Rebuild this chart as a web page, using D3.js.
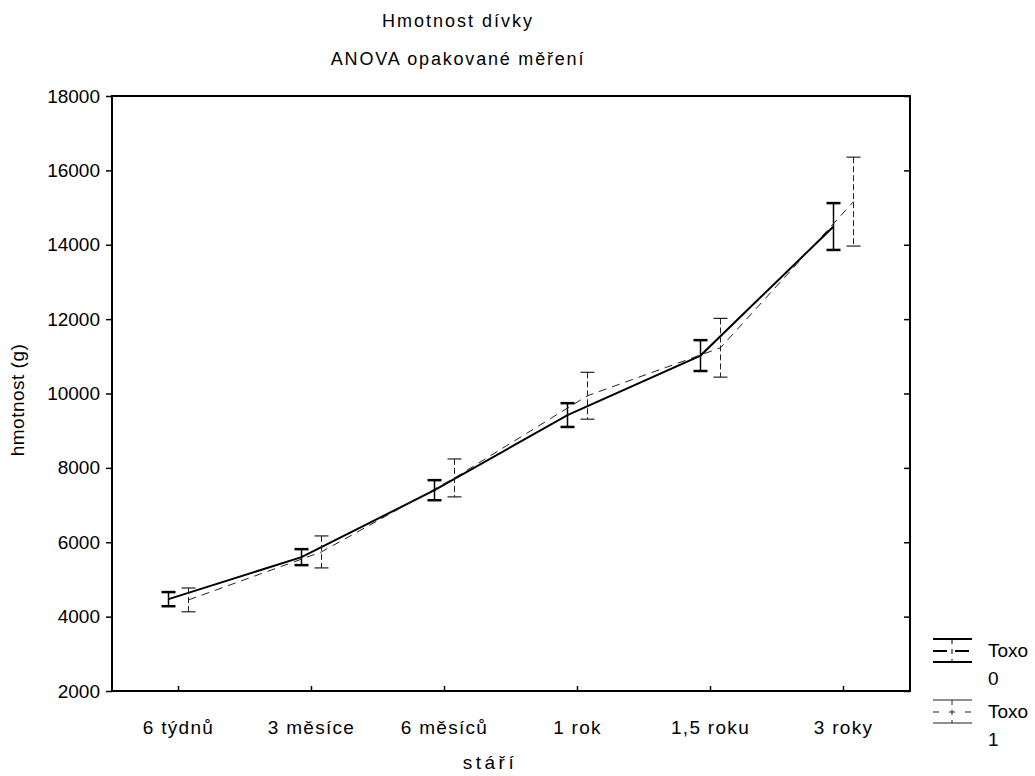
<!DOCTYPE html>
<html><head><meta charset="utf-8">
<script src="https://cdn.jsdelivr.net/npm/d3@7"></script>
<style>body{margin:0;background:#fff}text{font-family:"Liberation Sans",Arial,sans-serif;fill:#000}</style>
</head><body><svg id="c" width="1035" height="776"></svg>
<script>
const categories = ["6 týdnů","3 měsíce","6 měsíců","1 rok","1,5 roku","3 roky"];
const toxo0Mean = [4470, 5600, 7400, 9420, 11020, 14490];
const toxo0Err  = [190, 215, 270, 320, 415, 630];
const toxo1Mean = [4450, 5740, 7730, 9940, 11230, 15160];
const toxo1Err  = [320, 430, 510, 630, 790, 1195];
const yTicks = [2000,4000,6000,8000,10000,12000,14000,16000,18000];
const seriesNames = ["Toxo\n0","Toxo\n1"];

const svg = d3.select("#c");
const L=112,R=910,T=96,B=691;
const FF = "Liberation Sans, Arial, sans-serif";
const x = d3.scaleBand().domain(categories).range([L,R]);
const y = d3.scaleLinear().domain([2000,18000]).range([B,T]);
const cx = c => x(c)+x.bandwidth()/2;

// frame
svg.append("rect").attr("x",L).attr("y",T).attr("width",R-L).attr("height",B-T)
  .attr("fill","none").attr("stroke","#000").attr("stroke-width",2);

// y axis
const ya = svg.append("g").attr("transform",`translate(${L},0)`)
  .call(d3.axisLeft(y).tickValues(yTicks).tickSize(6).tickPadding(6).tickFormat(d3.format("d")));
ya.select(".domain").remove();
ya.selectAll("line").attr("stroke","#000").attr("stroke-width",1.5);
ya.selectAll("text").attr("font-size",19).style("font-family",FF);
// right inward ticks
const yr = svg.append("g").attr("transform",`translate(${R},0)`)
  .call(d3.axisLeft(y).tickValues(yTicks).tickSize(6).tickFormat(""));
yr.select(".domain").remove();
yr.selectAll("line").attr("stroke","#000").attr("stroke-width",1.5);

// x axis
const xa = svg.append("g").attr("transform",`translate(0,${B})`)
  .call(d3.axisBottom(x).tickSize(0).tickPadding(30));
xa.select(".domain").remove();
xa.selectAll("text").attr("font-size",19).attr("letter-spacing",1.3).style("font-family",FF);
svg.append("g").selectAll("line").data(categories).join("line")
  .attr("x1",d=>cx(d)).attr("x2",d=>cx(d)).attr("y1",B).attr("y2",B-5)
  .attr("stroke","#000").attr("stroke-width",1.5);

// titles
svg.append("text").attr("x",458).attr("y",27).attr("text-anchor","middle").attr("font-size",18).attr("letter-spacing",2).text("Hmotnost dívky");
svg.append("text").attr("x",458).attr("y",65).attr("text-anchor","middle").attr("font-size",18).attr("letter-spacing",1.8).text("ANOVA opakované měření");
svg.append("text").attr("x",490).attr("y",769).attr("text-anchor","middle").attr("font-size",19).attr("letter-spacing",3.5).text("stáří");
svg.append("text").attr("transform","translate(24,400) rotate(-90)").attr("text-anchor","middle").attr("font-size",19).attr("letter-spacing",0.5).text("hmotnost (g)");

const series = [
  {mean:toxo0Mean, err:toxo0Err, off:-10, w:2, dash:null, col:"#000", cap:14},
  {mean:toxo1Mean, err:toxo1Err, off:10, w:1, dash:"8,6", col:"#222", cap:14}
];
series.forEach(s=>{
  const pts = categories.map((c,i)=>({c, m:s.mean[i], e:s.err[i], px:cx(c)+s.off}));
  const g = svg.append("g");
  g.append("path").datum(pts).attr("fill","none").attr("stroke",s.col).attr("stroke-width",s.w)
    .attr("stroke-dasharray",s.dash)
    .attr("d",d3.line().x(d=>d.px).y(d=>y(d.m)));
  const eb = g.selectAll("g.eb").data(pts).join("g");
  eb.append("line").attr("x1",d=>d.px).attr("x2",d=>d.px).attr("y1",d=>y(d.m+d.e)).attr("y2",d=>y(d.m-d.e))
    .attr("stroke",s.col).attr("stroke-width",s.w===2?1.5:1).attr("stroke-dasharray",s.dash?"6,3":null);
  [1,-1].forEach(sg=>{
    eb.append("line").attr("x1",d=>d.px-s.cap/2).attr("x2",d=>d.px+s.cap/2)
      .attr("y1",d=>y(d.m+sg*d.e)).attr("y2",d=>y(d.m+sg*d.e))
      .attr("stroke",s.col).attr("stroke-width",s.w===2?2.5:1.2);
  });
});

// legend
const lg = svg.append("g");
const legTop = [639, 700];
[0,1].forEach(i=>{
  const s=series[i], yy=legTop[i];
  const sym = lg.append("g");
  sym.append("line").attr("x1",933).attr("x2",972).attr("y1",yy).attr("y2",yy).attr("stroke",s.col).attr("stroke-width",s.w===2?2:1.2);
  sym.append("line").attr("x1",933).attr("x2",972).attr("y1",yy+23).attr("y2",yy+23).attr("stroke",s.col).attr("stroke-width",s.w===2?2:1.2);
  sym.append("line").attr("x1",952).attr("x2",952).attr("y1",yy).attr("y2",yy+23).attr("stroke",s.col).attr("stroke-width",1).attr("stroke-dasharray","5,5");
  sym.append("line").attr("x1",933).attr("x2",972).attr("y1",yy+12).attr("y2",yy+12).attr("stroke",s.col).attr("stroke-width",s.w).attr("stroke-dasharray",s.dash?"6,10":"14,8");
  const lines = seriesNames[i].split("\n");
  lines.forEach((t,j)=>lg.append("text").attr("x",988).attr("y",yy+18+j*28).attr("font-size",19).text(t));
});
</script></body></html>
